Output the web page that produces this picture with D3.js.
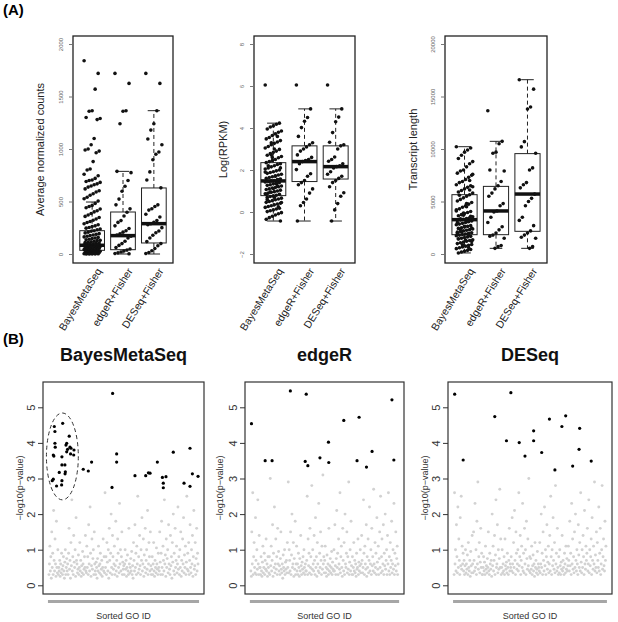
<!DOCTYPE html>
<html>
<head>
<meta charset="utf-8">
<script src="https://cdn.jsdelivr.net/npm/d3@7"></script>
<style>
  body { margin: 0; background: #fff; }
  text { font-family: "Liberation Sans", Arial, sans-serif; }
</style>
</head>
<body>
<svg id="fig"></svg>
<script>
// [ --- Data
var boxCats = ["BayesMetaSeq", "edgeR+Fisher", "DESeq+Fisher"];

// (A) average normalized counts
var countsTicks = [0, 500, 1000, 1500, 2000];
var countsLo  = [0, 0, 0];
var countsQ1  = [35, 41, 105];
var countsMed = [83, 175, 289];
var countsQ3  = [222, 400, 629];
var countsHi  = [495, 787, 1365];
var countsBayes = [1840, 1720, 1570, 1365, 1360, 1300, 1290, 1280, 1100, 1040, 1000, 990, 980, 965,
  880, 810, 800, 760, 745, 720, 705, 700, 690, 682, 668, 660, 648, 637, 620, 603, 590, 574, 560, 540, 526, 505,
  482, 463, 452, 440, 428, 412, 401, 386, 372, 358, 347, 333, 321, 309, 300, 288, 279, 268, 261, 253,
  246, 238, 231, 222, 216, 208, 201, 194, 187, 181, 176, 169, 163, 158, 152, 147, 141, 136, 130, 127,
  121, 117, 112, 109, 104, 101, 97, 94, 91, 88, 85, 83, 80, 77, 74, 71, 69, 66, 63, 60, 58, 55, 52, 49,
  47, 44, 42, 39, 36, 34, 31, 29, 26, 23, 21, 19, 16, 14, 12, 10, 8, 6, 5, 3, 2, 1, 0, 0, 0];
var countsEdgeR = [1720, 1625, 1365, 1360, 1240, 787, 775, 700, 645, 598, 523, 468, 430, 398, 362, 318, 301,
  268, 243, 222, 208, 193, 181, 170, 152, 121, 99, 82, 61, 48, 37, 28, 19, 11, 5, 2];
var countsDESeq = [1720, 1625, 1365, 1240, 1180, 1095, 1040, 972, 950, 898, 782, 705, 630, 468, 452, 431,
  418, 379, 352, 318, 301, 288, 279, 251, 219, 203, 178, 152, 118, 99, 78, 52, 31, 15, 5];

// (A) Log(RPKM)
var rpkmTicks = [-2, 0, 2, 4, 6, 8];
var rpkmLo  = [-0.43, -0.43, -0.43];
var rpkmQ1  = [0.78, 1.45, 1.57];
var rpkmMed = [1.48, 2.40, 2.16];
var rpkmQ3  = [2.35, 3.15, 3.15];
var rpkmHi  = [4.23, 4.91, 4.91];
var rpkmBayes = [6.05, 4.23, 4.18, 4.1, 4.05, 3.95, 3.86, 3.8, 3.72, 3.64, 3.55, 3.48, 3.4, 3.33, 3.27, 3.2,
  3.12, 3.05, 2.98, 2.9, 2.84, 2.78, 2.7, 2.64, 2.58, 2.5, 2.45, 2.4, 2.35, 2.3, 2.26, 2.2, 2.15, 2.1, 2.05,
  2.0, 1.96, 1.92, 1.88, 1.84, 1.8, 1.76, 1.72, 1.68, 1.64, 1.6, 1.57, 1.54, 1.5, 1.48, 1.46, 1.43, 1.4,
  1.37, 1.34, 1.3, 1.27, 1.24, 1.2, 1.17, 1.14, 1.1, 1.07, 1.04, 1.0, 0.97, 0.94, 0.9, 0.87, 0.84, 0.8,
  0.77, 0.74, 0.7, 0.66, 0.62, 0.58, 0.54, 0.5, 0.46, 0.42, 0.38, 0.34, 0.3, 0.26, 0.22, 0.18, 0.14, 0.1,
  0.06, 0.02, -0.03, -0.08, -0.14, -0.2, -0.27, -0.35, -0.43, 3.6, 3.0, 2.72, 2.2, 1.9, 1.55, 1.35, 1.12,
  0.95, 0.6, 0.45, 0.25, 1.7, 2.6, 1.45, 0.85, 2.1, 1.25, 0.7, 3.3];
var rpkmEdgeR = [6.05, 4.91, 4.5, 4.32, 4.02, 3.6, 3.3, 3.2, 3.1, 3.0, 2.9, 2.72, 2.6, 2.5, 2.45, 2.4, 2.3,
  2.02, 1.82, 1.7, 1.5, 1.4, 1.3, 1.1, 0.9, 0.62, 0.45, 0.3, -0.43];
var rpkmDESeq = [6.05, 4.91, 4.52, 4.3, 3.78, 3.32, 3.2, 3.15, 3.0, 2.62, 2.5, 2.42, 2.3, 2.2, 2.16, 2.1,
  1.92, 1.8, 1.7, 1.6, 1.5, 1.4, 1.2, 0.92, 0.75, 0.4, 0.1, -0.43];

// (A) transcript length
var lenTicks = [0, 5000, 10000, 15000, 20000];
var lenLo  = [100, 540, 540];
var lenQ1  = [1840, 1840, 2160];
var lenMed = [3270, 4100, 5710];
var lenQ3  = [5650, 6440, 9560];
var lenHi  = [10220, 10730, 16600];
var lenBayes = [10220, 10100, 9900, 9700, 9400, 9100, 8800, 8600, 8300, 8000, 7900, 7700, 7500, 7300,
  7100, 6900, 6800, 6600, 6500, 6350, 6200, 6050, 5900, 5800, 5650, 5500, 5350, 5200, 5050, 4900, 4750,
  4600, 4450, 4300, 4200, 4050, 3950, 3850, 3750, 3650, 3550, 3450, 3380, 3300, 3250, 3200, 3150, 3080,
  3000, 2920, 2850, 2780, 2700, 2630, 2560, 2500, 2440, 2380, 2320, 2260, 2200, 2140, 2080, 2020, 1960,
  1900, 1850, 1800, 1740, 1680, 1620, 1560, 1500, 1430, 1360, 1290, 1220, 1150, 1070, 990, 910, 830,
  750, 670, 590, 510, 430, 350, 270, 190, 100, 6400, 7000, 4800, 3900, 3350, 2960, 2480, 1770, 1330, 880,
  5600, 4100, 3600, 3100, 2650, 2100, 1450, 7600, 6100, 4500, 3700, 2350, 1930, 1200, 620];
var lenEdgeR = [13650, 10730, 10500, 9700, 9600, 8000, 7900, 6900, 6500, 6200, 5800, 5500, 4800, 4600,
  4100, 4000, 3500, 3000, 2600, 2300, 2000, 1800, 1700, 1500, 800, 700, 540];
var lenDESeq = [16600, 15700, 14000, 13800, 10700, 10200, 9600, 8200, 8000, 6800, 6600, 6300, 5700,
  5300, 5000, 4600, 3500, 3200, 2700, 2200, 2000, 1800, 1600, 1500, 700, 540];

// (B) GO enrichment, x = position in sorted GO ID list (0-100), y = -log10(p)
var goTicks = [0, 1, 2, 3, 4, 5];
var goTitles = ["BayesMetaSeq", "edgeR", "DESeq"];

var bayesSigX = [3.6, 4.0, 4.0, 4.2, 2.9, 3.3, 2.9, 2.2, 5.1, 6.9, 8.7, 8.7, 8.7, 8.5, 9.2, 10.7, 11.0, 10.8,
  11.4, 11.9, 11.9, 12.5, 13.6, 14.1, 14.8, 14.5, 16.8, 16.6,
  23.0, 26.4, 28.6, 42.7, 42.3, 45.4, 45.4, 57.7, 64.9, 66.7, 67.8, 72.7, 76.1, 76.7, 76.7, 78.5, 83.4,
  90.6, 94.6, 94.6, 96.2, 100];
var bayesSigY = [4.46, 4.32, 3.99, 3.88, 3.66, 3.63, 2.98, 2.94, 2.79, 3.17, 3.61, 3.38, 2.94, 2.82, 4.55, 3.38, 3.19, 3.13,
  3.94, 3.99, 3.75, 3.82, 4.19, 3.88, 3.85, 3.69, 3.80, 3.66,
  3.26, 3.21, 3.46, 5.39, 2.75, 3.69, 3.46, 3.08, 3.08, 3.16, 3.15, 3.46, 3.03, 2.87, 2.74, 3.05, 3.74,
  2.87, 3.85, 2.78, 3.13, 3.06];
var edgeRSigX = [0.4, 9.7, 14.4, 26.8, 36.9, 37.6, 38.7, 46.9, 52.7, 52.9, 63.1, 72.1, 73.5, 78.5, 82.3, 95.8, 97.1];
var edgeRSigY = [4.54, 3.50, 3.50, 5.46, 3.48, 5.37, 3.36, 3.58, 4.02, 3.45, 4.63, 3.50, 4.72, 3.32, 3.76, 5.21, 3.52];
var deseqSigX = [0.4, 6.0, 26.8, 34.5, 37.4, 42.9, 46.7, 52.4, 52.4, 57.7, 62.8, 66.4, 71.0, 73.5, 78.1, 82.3, 82.7, 90.3];
var deseqSigY = [5.37, 3.52, 4.74, 4.06, 5.41, 4.01, 3.63, 4.34, 4.06, 3.73, 4.67, 3.24, 4.46, 4.76, 3.35, 3.82, 4.41, 3.49];

// dashed ellipse round the BayesMetaSeq cluster: [cx, cy, rx, ry] in data units
var bayesCluster = [9, 3.62, 10.7, 1.22];

var bayesRest = [0.3,0.6,1.1,0.4,0.8,0.2,1.5,0.5,0.9,0.3,2.1,0.7,0.4,1.3,0.6,0.25,1.8,0.5,0.35,1.0,
  0.3,0.5,0.4,0.7,0.25,0.6,0.35,0.9,0.45,0.3,0.55,0.8,0.4,0.2,0.65,1.0,0.3,0.5,0.75,0.4,
  0.6,0.3,0.9,1.6,0.45,0.7,0.2,1.2,0.55,2.4,0.4,0.8,0.3,1.4,0.65,0.5,1.0,0.25,1.9,0.7,
  0.6,0.35,0.45,0.85,0.3,0.5,1.2,0.4,0.7,0.25,0.55,0.35,0.95,0.6,0.3,0.45,0.8,0.5,1.4,0.4,
  0.35,1.1,0.5,0.8,0.3,1.7,0.6,0.4,2.2,0.9,0.25,0.55,1.3,0.45,0.75,1.0,0.3,1.5,0.6,0.4,
  0.3,0.65,0.5,0.2,0.75,0.4,1.1,0.55,0.35,0.6,0.9,0.3,0.45,0.7,0.25,0.5,1.3,0.4,0.8,0.35,
  2.6,0.5,0.8,0.3,1.2,0.65,0.4,1.0,0.2,1.6,0.7,0.35,0.9,2.0,0.5,0.3,1.4,0.8,0.45,0.6,
  1.1,0.3,0.55,1.8,0.4,0.7,0.25,1.3,0.9,0.5,0.35,2.3,0.6,1.0,0.4,0.8,1.5,0.3,0.65,0.45,
  0.55,0.3,0.6,1.0,0.45,0.7,0.25,0.5,0.85,0.4,0.3,1.6,0.6,0.35,0.5,0.75,0.4,0.95,0.3,0.55,
  0.2,1.2,0.7,0.4,1.7,0.5,0.9,0.3,1.1,0.6,2.5,0.35,0.8,0.45,1.4,0.55,0.3,1.0,0.7,1.9,
  0.4,0.6,1.3,0.25,0.85,0.5,1.6,0.35,0.7,1.0,0.45,2.1,0.3,0.6,1.2,0.8,0.4,1.5,0.55,0.3,
  0.45,0.8,0.3,0.6,1.2,0.4,0.25,0.7,0.5,0.35,1.05,0.6,0.45,0.3,0.9,0.5,0.4,1.5,0.65,0.3,
  0.9,1.8,0.5,0.3,1.1,0.7,0.4,2.4,0.6,0.85,0.25,1.3,0.5,0.75,1.0,0.35,1.7,0.6,0.45,0.3,
  1.4,0.55,0.8,0.2,1.2,0.65,2.0,0.4,0.9,0.3,1.6,0.5,0.7,1.1,0.35,0.6,2.2,0.45,0.8,0.3,
  1.0,0.5,1.5,0.25,0.7,0.4,1.3,0.6,1.9,0.35,0.85,0.5,1.1,0.3,0.65,2.5,0.45,0.9,0.4,1.2,
  0.3,0.7,1.7,0.5,0.35,1.0,0.6,1.4,0.25,0.8,2.1,0.45,0.55,1.2,0.3,0.75,1.6,0.4,0.9,0.6];
var edgeRRest = [0.4,0.25,1.5,0.6,2.6,0.3,0.8,1.2,0.5,0.35,1.9,0.7,0.3,1.0,0.45,2.4,0.6,0.3,1.4,0.5,
  0.5,0.3,0.8,0.4,0.25,0.65,1.1,0.35,0.5,0.9,0.3,0.7,0.45,1.3,0.4,0.6,0.25,0.8,0.5,0.35,
  0.8,0.3,3.0,0.55,1.1,0.4,0.7,1.7,0.25,0.9,0.5,2.2,0.35,0.6,1.3,0.45,0.8,0.3,1.6,0.6,
  0.95,0.4,0.55,0.3,0.75,1.5,0.45,0.35,0.6,0.2,0.85,0.5,0.4,1.0,0.3,0.65,0.45,0.7,0.35,1.2,
  0.5,2.9,0.35,1.0,0.7,0.4,1.5,0.3,0.85,2.0,0.5,0.6,1.2,0.25,0.75,0.45,1.8,0.3,0.6,1.1,
  0.4,0.6,0.3,0.9,0.5,0.25,0.75,0.4,1.4,0.55,0.3,0.65,0.45,0.8,0.35,1.0,0.5,0.3,0.6,0.4,
  0.4,0.7,2.5,0.3,1.3,0.55,0.9,0.35,1.6,0.5,0.8,0.3,2.8,0.45,1.0,0.6,0.4,1.4,0.7,0.3,
  1.9,0.5,0.8,0.25,1.2,0.6,0.4,2.3,0.35,0.9,0.5,1.5,0.7,0.3,1.1,0.45,3.1,0.6,0.8,0.35,
  0.7,1.1,0.35,0.5,0.25,0.85,0.45,0.6,0.3,1.6,0.4,0.55,0.75,0.35,0.5,0.95,0.3,0.65,0.45,0.4,
  1.0,0.4,1.7,0.55,0.3,0.75,2.1,0.5,0.9,0.3,1.3,0.6,0.45,2.6,0.35,0.8,1.1,0.5,0.25,1.6,
  0.7,0.4,1.2,0.3,2.0,0.6,0.5,0.9,1.5,0.35,0.8,0.45,2.9,0.3,0.65,1.0,0.4,1.8,0.55,0.3,
  0.8,0.3,0.5,1.2,0.4,0.7,0.35,0.6,0.25,0.9,0.45,0.5,1.3,0.3,0.65,0.4,0.55,1.0,0.35,0.6,
  1.4,0.7,0.35,0.5,2.4,0.9,0.3,1.1,0.6,0.45,1.7,0.25,0.8,0.5,1.3,0.35,0.7,2.2,0.4,0.6,
  1.0,0.3,1.6,0.55,0.8,0.4,2.7,0.6,0.35,1.2,0.5,0.9,0.3,1.9,0.65,0.45,1.1,0.3,0.75,1.5,
  0.5,2.5,0.35,0.8,1.3,0.4,0.6,1.7,0.3,0.9,0.55,2.0,0.45,0.7,1.0,0.3,1.4,0.6,2.6,0.4,
  0.8,0.3,1.2,0.5,0.7,1.8,0.35,0.6,1.0,0.45,2.3,0.3,0.9,0.55,1.5,0.4,0.75,1.1,0.3,0.6];
var deseqRest = [0.3,2.6,0.6,1.0,0.4,1.7,0.8,0.35,2.2,0.5,1.3,0.7,0.3,1.9,0.55,2.5,0.45,1.1,0.6,0.9,
  0.4,0.7,0.3,0.55,1.0,0.35,0.6,0.45,0.85,0.3,1.2,0.5,0.4,0.7,0.25,0.95,0.55,0.35,1.4,0.6,
  0.35,1.5,0.7,0.4,2.3,0.5,1.0,0.3,1.8,0.6,2.9,0.45,0.8,1.2,0.35,0.65,1.6,0.5,0.9,0.3,
  0.3,0.5,0.8,0.4,0.65,0.3,1.1,0.45,0.55,0.35,0.75,0.5,1.5,0.4,0.3,0.9,0.6,0.45,0.7,0.25,
  2.0,0.55,1.1,0.4,0.7,1.4,0.3,0.85,2.4,0.5,0.6,1.7,0.35,1.0,0.45,0.75,2.7,0.5,1.3,0.3,
  0.5,1.0,0.35,0.6,0.4,0.8,0.3,1.3,0.55,0.45,0.65,0.35,0.9,0.5,0.3,0.7,1.6,0.4,0.6,0.5,
  0.8,0.4,1.9,0.6,0.35,1.2,0.5,2.1,0.7,0.3,1.5,0.9,0.45,0.6,1.0,0.4,2.6,0.55,0.8,1.4,
  0.3,0.7,1.1,0.5,2.3,0.4,0.9,0.35,1.6,0.6,1.0,0.3,1.8,0.75,0.45,1.3,0.55,3.0,0.4,0.8,
  0.35,0.75,0.45,1.1,0.3,0.55,0.85,0.4,0.6,0.25,1.2,0.5,0.7,0.35,0.45,0.95,0.3,0.6,0.5,0.4,
  1.2,0.35,0.6,2.0,0.5,0.9,0.3,1.5,0.7,0.4,2.2,0.55,1.0,0.3,0.8,1.7,0.45,0.65,1.1,0.35,
  0.6,1.4,0.4,2.5,0.8,0.3,1.0,0.55,1.9,0.7,0.45,1.2,0.35,2.8,0.6,0.9,0.4,1.6,0.5,0.3,
  0.8,0.35,1.0,0.55,0.3,0.65,0.45,1.4,0.4,0.7,0.5,0.3,0.9,0.6,0.35,1.1,0.45,0.75,0.4,0.55,
  1.1,0.7,0.4,1.8,0.55,0.9,0.3,2.3,0.6,1.3,0.45,0.8,0.35,1.5,0.5,2.0,0.7,0.4,1.0,0.6,
  0.3,1.7,0.85,0.5,1.2,0.4,2.6,0.65,0.35,1.0,0.5,1.4,0.8,0.3,2.1,0.6,0.45,1.1,0.7,0.9,
  1.6,0.4,0.6,2.4,0.35,1.0,0.55,0.8,1.3,0.3,1.9,0.7,0.45,1.1,0.6,2.9,0.4,0.85,0.5,1.5,
  0.35,1.2,0.7,0.5,2.2,0.4,0.9,1.6,0.3,0.6,1.0,2.8,0.45,0.8,1.3,0.55,0.4,1.8,0.7,1.1];
// Data ---]

var width = 618;
var height = 622;

var svg = d3.select("#fig")
    .attr("width", width)
    .attr("height", height);

svg.append("text")
    .attr("x", 3).attr("y", 15)
    .style("font-weight", "bold").style("font-size", "15px")
    .text("(A)");

svg.append("text")
    .attr("x", 3).attr("y", 344)
    .style("font-weight", "bold").style("font-size", "15px")
    .text("(B)");

// [ --- Box plots
function drawBoxPanel(left, right, yDomain, ticks, title, titleX, stats, groups){
  var top = 36, bottom = 263;
  var g = svg.append("g");

  var xScale = d3.scaleLinear().domain([0.38, 3.62]).range([left, right]);
  var yScale = d3.scaleLinear().domain(yDomain).range([254, 44]);

  var yAxis = d3.axisLeft(yScale)
                .tickValues(ticks)
                .tickFormat(d3.format("d"))
                .tickSize(3)
                .tickSizeOuter(0);

  var ax = g.append("g")
      .attr("transform", "translate(" + (left - 1) + ",0)")
      .call(yAxis);
  ax.select(".domain").remove();
  ax.selectAll("line").attr("stroke", "#777");
  // rotated tick labels, as R draws them
  ax.selectAll("text")
      .attr("x", 0)
      .attr("y", 0)
      .attr("dy", 0)
      .attr("transform", "translate(-9,0) rotate(-90)")
      .style("text-anchor", "middle")
      .style("font-size", "6px")
      .attr("fill", "#666");

  g.append("text")
      .attr("transform", "translate(" + titleX + "," + ((top + bottom) / 2) + ") rotate(-90)")
      .style("text-anchor", "middle")
      .style("font-size", "11px")
      .attr("fill", "#222")
      .text(title);

  var box = g.selectAll(".box")
      .data(boxCats)
      .enter()
      .append("g")
        .classed("box", true);

  // whiskers
  box.append("line")
      .attr("x1", (d, i) => xScale(i + 1)).attr("x2", (d, i) => xScale(i + 1))
      .attr("y1", (d, i) => yScale(stats.q3[i])).attr("y2", (d, i) => yScale(stats.hi[i]))
      .attr("stroke", "#222").attr("stroke-dasharray", "4,3");
  box.append("line")
      .attr("x1", (d, i) => xScale(i + 1)).attr("x2", (d, i) => xScale(i + 1))
      .attr("y1", (d, i) => yScale(stats.q1[i])).attr("y2", (d, i) => yScale(stats.lo[i]))
      .attr("stroke", "#222").attr("stroke-dasharray", "4,3");
  box.append("line")
      .attr("x1", (d, i) => xScale(i + 0.8)).attr("x2", (d, i) => xScale(i + 1.2))
      .attr("y1", (d, i) => yScale(stats.hi[i])).attr("y2", (d, i) => yScale(stats.hi[i]))
      .attr("stroke", "#222");
  box.append("line")
      .attr("x1", (d, i) => xScale(i + 0.8)).attr("x2", (d, i) => xScale(i + 1.2))
      .attr("y1", (d, i) => yScale(stats.lo[i])).attr("y2", (d, i) => yScale(stats.lo[i]))
      .attr("stroke", "#222");

  box.append("rect")
      .attr("x", (d, i) => xScale(i + 0.6))
      .attr("width", xScale(1.4) - xScale(0.6))
      .attr("y", (d, i) => yScale(stats.q3[i]))
      .attr("height", (d, i) => yScale(stats.q1[i]) - yScale(stats.q3[i]))
      .attr("fill", "none")
      .attr("stroke", "#222");

  box.append("line")
      .attr("x1", (d, i) => xScale(i + 0.6)).attr("x2", (d, i) => xScale(i + 1.4))
      .attr("y1", (d, i) => yScale(stats.med[i])).attr("y2", (d, i) => yScale(stats.med[i]))
      .attr("stroke", "#111").attr("stroke-width", 3.5);

  // jittered points
  groups.forEach(function(vals, gi){
    g.append("g")
      .selectAll("circle")
      .data(vals)
      .enter()
      .append("circle")
        .attr("cx", (d, i) => xScale(gi + 1 + (((i * 14) % 17) - 8) / 8 * 0.26))
        .attr("cy", d => yScale(d))
        .attr("r", 1.8)
        .attr("fill", "#111");
  });

  g.append("rect")
      .attr("x", left).attr("y", top)
      .attr("width", right - left).attr("height", bottom - top)
      .attr("fill", "none")
      .attr("stroke", "#222")
      .attr("stroke-width", 1.3);

  g.selectAll(".cat")
      .data(boxCats)
      .enter()
      .append("text")
        .attr("transform", (d, i) => "translate(" + (xScale(i + 1) + 10) + ",271) rotate(-58)")
        .style("text-anchor", "end")
        .style("font-size", "10.5px")
        .attr("fill", "#222")
        .text(d => d);
}

drawBoxPanel(73, 173, [0, 2000], countsTicks, "Average normalized counts", 44,
  {lo: countsLo, q1: countsQ1, med: countsMed, q3: countsQ3, hi: countsHi},
  [countsBayes, countsEdgeR, countsDESeq]);

drawBoxPanel(254, 355, [-2, 8], rpkmTicks, "Log(RPKM)", 227,
  {lo: rpkmLo, q1: rpkmQ1, med: rpkmMed, q3: rpkmQ3, hi: rpkmHi},
  [rpkmBayes, rpkmEdgeR, rpkmDESeq]);

drawBoxPanel(445, 547, [0, 20000], lenTicks, "Transcript length", 417,
  {lo: lenLo, q1: lenQ1, med: lenMed, q3: lenQ3, hi: lenHi},
  [lenBayes, lenEdgeR, lenDESeq]);
// Box plots ---]

// [ --- GO scatter plots
function drawGoPanel(left, right, title, sigX, sigY, rest, labelX, cluster){
  var top = 382, bottom = 594;
  var pad = (right - left) * 0.037;
  var g = svg.append("g");

  var xScale = d3.scaleLinear().domain([0, 100]).range([left + pad, right - pad]);
  var restScale = d3.scaleLinear().domain([0, rest.length - 1]).range([left + pad, right - pad]);
  var yScale = d3.scaleLinear().domain([0, 5]).range([585.3, 407.3]);

  g.append("g")
    .selectAll("circle")
    .data(rest)
    .enter()
    .append("circle")
      .attr("cx", (d, i) => restScale(i))
      .attr("cy", d => yScale(d))
      .attr("r", 1.45)
      .attr("fill", "#d2d2d2");

  g.append("g")
    .selectAll("circle")
    .data(sigX)
    .enter()
    .append("circle")
      .attr("cx", d => xScale(d))
      .attr("cy", (d, i) => yScale(sigY[i]))
      .attr("r", 1.6)
      .attr("fill", "#000");

  if(cluster){
    g.append("ellipse")
        .attr("cx", xScale(cluster[0]))
        .attr("cy", yScale(cluster[1]))
        .attr("rx", xScale(cluster[2]) - xScale(0))
        .attr("ry", yScale(0) - yScale(cluster[3]))
        .attr("fill", "none")
        .attr("stroke", "#333")
        .attr("stroke-dasharray", "4,3");
  }

  var yAxis = d3.axisLeft(yScale)
                .tickValues(goTicks)
                .tickFormat(d3.format("d"))
                .tickSize(5)
                .tickSizeOuter(0);

  var ax = g.append("g")
      .attr("transform", "translate(" + left + ",0)")
      .call(yAxis);
  ax.select(".domain").remove();
  ax.selectAll("line").attr("stroke", "#333");
  ax.selectAll("text")
      .attr("x", 0)
      .attr("y", 0)
      .attr("dy", 0)
      .attr("transform", "translate(-8,0) rotate(-90)")
      .style("text-anchor", "middle")
      .style("font-size", "11px")
      .attr("fill", "#333");

  g.append("rect")
      .attr("x", left).attr("y", top)
      .attr("width", right - left).attr("height", bottom - top)
      .attr("fill", "none")
      .attr("stroke", "#333")
      .attr("stroke-width", 1.2);

  g.append("line")
      .attr("x1", xScale(0) - 1).attr("x2", xScale(100) + 1)
      .attr("y1", 601.5).attr("y2", 601.5)
      .attr("stroke", "#a6a6a6")
      .attr("stroke-width", 3);

  g.append("text")
      .attr("x", (left + right) / 2)
      .attr("y", 361)
      .style("text-anchor", "middle")
      .style("font-weight", "bold")
      .style("font-size", "18px")
      .attr("fill", "#111")
      .text(title);

  g.append("text")
      .attr("transform", "translate(" + labelX + "," + ((top + bottom) / 2) + ") rotate(-90)")
      .style("text-anchor", "middle")
      .style("font-size", "9px")
      .attr("fill", "#333")
      .text("\u2212log10(p\u2212value)");

  g.append("text")
      .attr("x", (left + right) / 2)
      .attr("y", 619)
      .style("text-anchor", "middle")
      .style("font-size", "9px")
      .attr("fill", "#333")
      .text("Sorted GO ID");
}

drawGoPanel(43, 204, goTitles[0], bayesSigX, bayesSigY, bayesRest, 23, bayesCluster);
drawGoPanel(245, 404, goTitles[1], edgeRSigX, edgeRSigY, edgeRRest, 223, null);
drawGoPanel(448, 612, goTitles[2], deseqSigX, deseqSigY, deseqRest, 428, null);
// GO scatter plots ---]
</script>
</body>
</html>
